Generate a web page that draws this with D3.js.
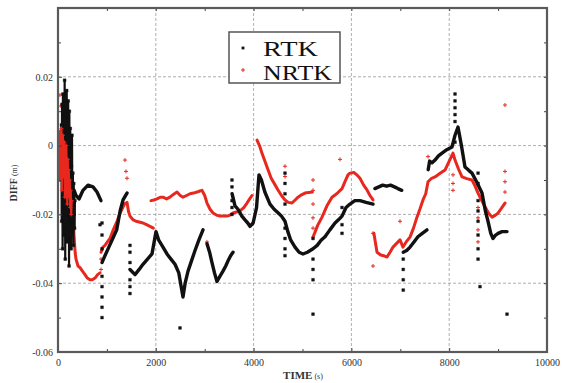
<!DOCTYPE html>
<html>
<head>
<meta charset="utf-8">
<script src="https://cdn.jsdelivr.net/npm/d3@7"></script>
<style>
  html, body { margin: 0; padding: 0; background: #fff; }
  svg { display: block; font-family: "Liberation Serif", "DejaVu Serif", serif; }
</style>
</head>
<body>
<svg id="chart" width="565" height="383"></svg>
<script>
// axis ticks and labels
var xTicks = [0, 2000, 4000, 6000, 8000, 10000];
var xTickLabels = ["0", "2000", "4000", "6000", "8000", "10000"];
var xMinor = [1000, 3000, 5000, 7000, 9000];
var yTicks = [-0.06, -0.04, -0.02, 0, 0.02, 0.04];
var yTickLabels = ["-0.06", "-0.04", "-0.02", "0", "0.02", ""];
var yMinor = [-0.05, -0.03, -0.01, 0.01, 0.03];
var seriesNames = ["RTK", "NRTK"];

// RTK (black) - time (s), diff (m)
var rtkCloud = [[64,-0.010],[70,0.006],[76,-0.022],[82,0.012],[88,-0.004],[94,-0.030],[100,0.015],[106,-0.014],[112,0.003],[118,-0.026],[124,0.009],[130,-0.018],[136,0.019],[142,-0.007],[148,-0.033],[154,0.011],[160,-0.012],[166,0.004],[172,-0.024],[178,0.016],[184,-0.002],[190,-0.028],[196,0.008],[202,-0.016],[208,0.013],[214,-0.021],[220,-0.001],[226,-0.035],[232,0.010],[238,-0.009],[244,-0.027],[250,0.005],[256,-0.019],[262,0.001],[268,-0.030],[274,-0.006],[280,-0.022],[286,0.003],[292,-0.013],[298,-0.025],[304,-0.008],[310,-0.017],[316,-0.029],[322,-0.011],[328,-0.020],[334,-0.014],[340,-0.024],[346,-0.016]];
var rtkSeg1 = [[330,-0.013],[368,-0.0145],[430,-0.0155],[511,-0.013],[613,-0.0115],[716,-0.012],[798,-0.0135],[879,-0.016]];
var rtkSeg2 = [[900,-0.034],[960,-0.032],[1040,-0.0295],[1120,-0.027],[1200,-0.0245],[1270,-0.019],[1330,-0.0158],[1411,-0.0138]];
var rtkSeg3 = [[1472,-0.036],[1575,-0.0375],[1660,-0.036],[1738,-0.0345],[1830,-0.033],[1922,-0.0315],[2004,-0.025],[2060,-0.0275],[2147,-0.0295],[2229,-0.0315],[2310,-0.033],[2393,-0.0345],[2470,-0.037],[2556,-0.044],[2600,-0.04],[2659,-0.0365],[2730,-0.0335],[2802,-0.0305],[2880,-0.0275],[2965,-0.0245]];
var rtkSeg4 = [[3047,-0.0285],[3100,-0.031],[3149,-0.034],[3200,-0.037],[3251,-0.0395],[3310,-0.038],[3374,-0.0365],[3430,-0.035],[3477,-0.0335],[3530,-0.032],[3579,-0.031]];
var rtkSeg5 = [[3560,-0.014],[3620,-0.0175],[3681,-0.0185],[3760,-0.0205],[3824,-0.0216],[3880,-0.0225],[3926,-0.0235],[3990,-0.0225],[4060,-0.018],[4110,-0.0085],[4160,-0.010],[4230,-0.0135],[4335,-0.017],[4420,-0.0185],[4499,-0.0195],[4570,-0.0205],[4642,-0.022],[4700,-0.025],[4760,-0.0275],[4847,-0.0295],[4930,-0.031],[5010,-0.0315],[5100,-0.031],[5215,-0.030],[5300,-0.029],[5380,-0.0275],[5460,-0.0265],[5560,-0.0245],[5665,-0.0225],[5740,-0.0215],[5808,-0.0205],[5890,-0.018],[5971,-0.017],[6070,-0.016],[6176,-0.016],[6300,-0.0165],[6442,-0.017]];
var rtkSeg6 = [[6480,-0.0125],[6560,-0.012],[6640,-0.0115],[6720,-0.0118],[6800,-0.0115],[6880,-0.012],[6950,-0.0125],[7030,-0.013]];
var rtkSeg7 = [[7060,-0.031],[7130,-0.0305],[7200,-0.0295],[7280,-0.028],[7360,-0.0265],[7450,-0.0255],[7546,-0.0245]];
var rtkSeg8 = [[7570,-0.007],[7600,-0.0045],[7650,-0.005],[7710,-0.0042],[7780,-0.003],[7853,-0.0022],[7950,-0.0012],[8057,-0.0004],[8119,0.003],[8180,0.0054],[8250,0.0],[8323,-0.0062],[8400,-0.0072],[8466,-0.008],[8560,-0.0105],[8671,-0.0138],[8740,-0.019],[8794,-0.022],[8850,-0.0255],[8896,-0.027],[8950,-0.026],[9000,-0.0255],[9080,-0.025],[9182,-0.025]];
var rtkScatter = [[900,-0.0225],[900,-0.026],[900,-0.030],[900,-0.038],[900,-0.041],[900,-0.044],[900,-0.047],[900,-0.050],[1472,-0.029],[1472,-0.031],[1472,-0.034],[1472,-0.039],[1472,-0.041],[1472,-0.043],[3558,-0.010],[3558,-0.012],[3558,-0.016],[3558,-0.018],[3558,-0.020],[4642,-0.008],[4642,-0.011],[4642,-0.014],[4642,-0.017],[4642,-0.024],[4642,-0.027],[4642,-0.030],[4642,-0.032],[5215,-0.027],[5215,-0.033],[5215,-0.036],[5215,-0.039],[5808,-0.018],[5808,-0.023],[5808,-0.0255],[7060,-0.033],[7060,-0.036],[7060,-0.039],[7060,-0.042],[8119,0.015],[8119,0.013],[8119,0.011],[8119,0.009],[8119,0.007],[8119,0.001],[8590,-0.008],[8590,-0.011],[8590,-0.016],[8590,-0.019],[8590,-0.022],[8590,-0.026],[8590,-0.030],[8590,-0.033],[8630,-0.041],[2495,-0.053],[5215,-0.049],[9182,-0.049],[859,-0.023]];

// NRTK (red)
var nrtkCloud = [[20,-0.002],[30,0.004],[40,-0.010],[50,0.002],[60,-0.006],[70,0.005],[80,-0.013],[90,-0.001],[100,0.003],[110,-0.009],[120,-0.003],[130,0.001],[140,-0.015],[150,-0.005],[160,-0.011],[170,0.000],[180,-0.008],[190,-0.017],[200,-0.004],[210,-0.012],[220,-0.007],[230,-0.015],[240,-0.010],[250,-0.018],[260,-0.013],[270,-0.020],[280,-0.016]];
var nrtkSeg1 = [[20,-0.004],[50,0.001],[80,-0.002],[110,0.0015],[140,-0.003],[170,-0.001],[200,-0.006],[230,-0.004],[260,-0.009],[286,-0.012],[310,-0.02],[327,-0.026],[350,-0.031],[368,-0.033],[410,-0.035],[450,-0.0355],[500,-0.0365],[552,-0.0375],[600,-0.0385],[654,-0.039],[700,-0.039],[757,-0.0385],[810,-0.0375],[859,-0.037]];
var nrtkSeg2 = [[880,-0.031],[920,-0.0295],[961,-0.029],[1010,-0.028],[1063,-0.027],[1130,-0.0245],[1207,-0.022],[1260,-0.02],[1309,-0.0185],[1360,-0.017],[1411,-0.0165],[1440,-0.019],[1472,-0.0205],[1530,-0.0215],[1595,-0.022],[1660,-0.0222],[1738,-0.0225],[1810,-0.023],[1881,-0.0235],[1950,-0.024]];
var nrtkSeg3 = [[1902,-0.016],[1960,-0.0158],[2025,-0.0155],[2090,-0.015],[2147,-0.015],[2220,-0.0155],[2290,-0.015],[2360,-0.0142],[2434,-0.0135],[2500,-0.0145],[2556,-0.015],[2630,-0.0145],[2700,-0.014],[2770,-0.0138],[2843,-0.0135],[2900,-0.0132],[2945,-0.013],[3000,-0.0145],[3047,-0.0167],[3110,-0.0185],[3170,-0.0196],[3240,-0.0202],[3313,-0.0205],[3380,-0.0205],[3456,-0.0205],[3520,-0.0202],[3579,-0.0196],[3650,-0.0193],[3722,-0.019],[3800,-0.018],[3865,-0.0167],[3920,-0.0155],[3967,-0.0145]];
var nrtkSeg4 = [[4070,0.0016],[4120,0.0],[4172,-0.0022],[4230,-0.0045],[4295,-0.007],[4360,-0.0095],[4430,-0.0112],[4499,-0.0129],[4570,-0.0145],[4642,-0.0158],[4710,-0.0165],[4785,-0.0167],[4850,-0.0158],[4908,-0.015],[4980,-0.0143],[5051,-0.0138],[5130,-0.0136],[5200,-0.0135]];
var nrtkSeg5 = [[5215,-0.0266],[5260,-0.025],[5310,-0.0232],[5399,-0.0208],[5500,-0.0175],[5603,-0.015],[5700,-0.014],[5808,-0.0125],[5869,-0.0105],[5930,-0.0085],[5971,-0.008],[6050,-0.0078],[6110,-0.0085],[6176,-0.0095],[6250,-0.0115],[6319,-0.0129],[6380,-0.0145],[6442,-0.0158]];
var nrtkSeg6 = [[6460,-0.0255],[6500,-0.029],[6524,-0.031],[6600,-0.0318],[6660,-0.032],[6728,-0.0324],[6790,-0.031],[6851,-0.0295],[6920,-0.0285],[6994,-0.0274],[7055,-0.0295],[7120,-0.028],[7198,-0.0266],[7270,-0.024],[7341,-0.0208],[7400,-0.0185],[7464,-0.0158],[7520,-0.014],[7567,-0.0105],[7640,-0.0095],[7710,-0.0091],[7800,-0.0082],[7914,-0.0071],[8000,-0.0045],[8078,-0.0022],[8119,-0.0042],[8190,-0.0068],[8262,-0.0091],[8360,-0.0096],[8466,-0.01],[8530,-0.0118],[8589,-0.0138],[8660,-0.0158],[8732,-0.0178],[8800,-0.0195],[8875,-0.0208],[8940,-0.0203],[8998,-0.0196],[9070,-0.0182],[9141,-0.0167]];
var nrtkScatter = [[40,0.0147],[60,0.0115],[880,-0.033],[880,-0.036],[1370,-0.0042],[1390,-0.0075],[1411,-0.0095],[3047,-0.028],[4642,-0.009],[4642,-0.006],[5215,-0.010],[5215,-0.013],[5215,-0.017],[5215,-0.021],[5215,-0.024],[5767,-0.004],[6442,-0.0255],[6442,-0.035],[6994,-0.022],[7567,-0.0032],[8078,-0.0085],[8078,-0.011],[8078,-0.013],[8589,-0.018],[8589,-0.021],[8589,-0.0245],[8589,-0.028],[9141,0.0118],[9141,-0.0075],[9141,-0.0105],[9141,-0.0135]];

var rtkSegs = [rtkSeg1, rtkSeg2, rtkSeg3, rtkSeg4, rtkSeg5, rtkSeg6, rtkSeg7, rtkSeg8];
var nrtkSegs = [nrtkSeg1, nrtkSeg2, nrtkSeg3, nrtkSeg4, nrtkSeg5, nrtkSeg6];

var W = 565, H = 383;
var margin = {left: 58, right: 18, top: 8, bottom: 31};
var svg = d3.select("#chart");

var x = d3.scaleLinear().domain([0, 10000]).range([margin.left, W - margin.right]);
var y = d3.scaleLinear().domain([-0.06, 0.04]).range([H - margin.bottom, margin.top]);

// gridlines
var grid = svg.append("g").attr("class", "grid")
  .attr("stroke", "#9a9a9a").attr("stroke-width", 0.8).attr("stroke-dasharray", "3,2");
grid.selectAll("line.gx").data(xTicks.slice(1, -1)).enter().append("line")
  .attr("x1", function(d){ return x(d); }).attr("x2", function(d){ return x(d); })
  .attr("y1", y(0.04)).attr("y2", y(-0.06));
grid.selectAll("line.gy").data(yTicks.slice(1, -1)).enter().append("line")
  .attr("y1", function(d){ return y(d); }).attr("y2", function(d){ return y(d); })
  .attr("x1", x(0)).attr("x2", x(10000));

// series
var line = d3.line().x(function(d){ return x(d[0]); }).y(function(d){ return y(d[1]); });
var plot = svg.append("g").attr("class", "plot");
var squareMark = "M-1.4,-1.4h2.8v2.8h-2.8z";
var plusMark = "M-2,0h4M0,-2v4";

function drawCloud(cloud, color) {
  plot.append("path").datum(cloud).attr("d", line)
    .attr("fill", "none").attr("stroke", color).attr("stroke-width", 2.2)
    .attr("stroke-linejoin", "round");
}
function drawSeries(segs, pts, color, width, marker) {
  var g = plot.append("g");
  g.selectAll("path.seg").data(segs).enter().append("path")
    .attr("class", "seg").attr("d", line)
    .attr("fill", "none").attr("stroke", color).attr("stroke-width", width)
    .attr("stroke-linejoin", "round").attr("stroke-linecap", "round");
  g.selectAll("path.pt").data(pts).enter().append("path")
    .attr("class", "pt")
    .attr("transform", function(d){ return "translate(" + x(d[0]) + "," + y(d[1]) + ")"; })
    .attr("d", marker)
    .attr("fill", marker === squareMark ? color : "none")
    .attr("stroke", color).attr("stroke-width", marker === squareMark ? 0.4 : 1);
}

drawSeries(nrtkSegs, nrtkScatter, "#e8281e", 3, plusMark);
drawSeries(rtkSegs, rtkScatter, "#111", 3.4, squareMark);
drawCloud(rtkCloud, "#111");
drawSeries([], rtkCloud, "#111", 0, squareMark);
drawCloud(nrtkCloud, "#e8281e");
drawSeries([], nrtkCloud, "#e8281e", 0, plusMark);

// axes with inward ticks on all four sides
function styleAxis(g) {
  g.select(".domain").remove();
  g.selectAll(".tick line").attr("stroke", "#444").attr("stroke-width", 1);
  g.selectAll(".tick text").attr("fill", "#333")
    .style("font-family", "'Liberation Serif', serif").style("font-size", "10px");
}
svg.append("g").attr("transform", "translate(0," + y(-0.06) + ")")
  .call(d3.axisBottom(x).tickValues(xTicks).tickSize(-4).tickPadding(7)
    .tickFormat(function(d, i){ return xTickLabels[i]; }))
  .call(styleAxis);
svg.append("g").attr("transform", "translate(0," + y(-0.06) + ")")
  .call(d3.axisBottom(x).tickValues(xMinor).tickSize(-3).tickFormat(""))
  .call(styleAxis);
svg.append("g").attr("transform", "translate(0," + y(0.04) + ")")
  .call(d3.axisTop(x).tickValues(xTicks.concat(xMinor)).tickSize(-3).tickFormat(""))
  .call(styleAxis);
svg.append("g").attr("transform", "translate(" + x(0) + ",0)")
  .call(d3.axisLeft(y).tickValues(yTicks).tickSize(-4).tickPadding(5)
    .tickFormat(function(d, i){ return yTickLabels[i]; }))
  .call(styleAxis);
svg.append("g").attr("transform", "translate(" + x(0) + ",0)")
  .call(d3.axisLeft(y).tickValues(yMinor).tickSize(-3).tickFormat(""))
  .call(styleAxis);
svg.append("g").attr("transform", "translate(" + x(10000) + ",0)")
  .call(d3.axisRight(y).tickValues(yTicks.concat(yMinor)).tickSize(-3).tickFormat(""))
  .call(styleAxis);

// frame
svg.append("rect")
  .attr("x", x(0)).attr("y", y(0.04))
  .attr("width", x(10000) - x(0)).attr("height", y(-0.06) - y(0.04))
  .attr("fill", "none").attr("stroke", "#5a5a5a").attr("stroke-width", 2.2);

// axis titles
var xt = svg.append("text").attr("x", 303).attr("y", 379)
  .attr("text-anchor", "middle").attr("fill", "#333");
xt.append("tspan").attr("font-size", "11px").attr("font-weight", "bold").text("TIME");
xt.append("tspan").attr("font-size", "8px").text(" (s)");
var yt = svg.append("text").attr("transform", "translate(17,183) rotate(-90)")
  .attr("text-anchor", "middle").attr("fill", "#333");
yt.append("tspan").attr("font-size", "10px").attr("font-weight", "bold").text("DIFF");
yt.append("tspan").attr("font-size", "8px").text(" (m)");

// legend
var lg = svg.append("g").attr("class", "legend");
lg.append("rect").attr("x", 229).attr("y", 32).attr("width", 111).attr("height", 51)
  .attr("fill", "#fff").attr("stroke", "#555").attr("stroke-width", 1.5);
lg.append("path").attr("transform", "translate(243,48)").attr("d", squareMark).attr("fill", "#111");
lg.append("path").attr("transform", "translate(243,70)").attr("d", plusMark)
  .attr("stroke", "#e8281e").attr("stroke-width", 1);
var legendWidths = [55, 69];
lg.selectAll("text").data(seriesNames).enter().append("text")
  .attr("x", 263).attr("y", function(d, i){ return 56 + i * 24; })
  .attr("font-size", "21px").attr("fill", "#111")
  .attr("textLength", function(d, i){ return legendWidths[i]; })
  .attr("lengthAdjust", "spacingAndGlyphs")
  .text(function(d){ return d; });
</script>
</body>
</html>
